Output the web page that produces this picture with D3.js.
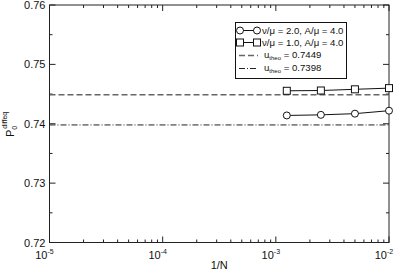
<!DOCTYPE html>
<html>
<head>
<meta charset="utf-8">
<script src="https://cdn.jsdelivr.net/npm/d3@7"></script>
<style>
  body { margin: 0; background: #fff; }
  text { font-family: "Liberation Sans", Arial, sans-serif; fill: #111; }
</style>
</head>
<body>
<svg></svg>
<script>
let width = 400
let height = 273
let margin = {left: 49.5, right: 11, top: 5, bottom: 30.5}

// data
let xValues = [0.00125, 0.0025, 0.005, 0.01]
let seriesNu2 = [0.7414, 0.7415, 0.7417, 0.7422]
let seriesNu1 = [0.74555, 0.7456, 0.7458, 0.7460]
let theoValues = [0.7449, 0.7398]
let yTicks = [0.72, 0.73, 0.74, 0.75, 0.76]
let xTickExps = [-5, -4, -3, -2]
let legendLabels = ["\u03bd/\u03bc = 2.0, A/\u03bc = 4.0", "\u03bd/\u03bc = 1.0, A/\u03bc = 4.0", "0.7449", "0.7398"]

let svg = d3.select("svg").attr("width", width).attr("height", height)

let xScale = d3.scaleLog().domain([1e-5, 1e-2]).range([margin.left, width - margin.right])
let yScale = d3.scaleLinear().domain([0.72, 0.76]).range([height - margin.bottom, margin.top])

let x0 = xScale.range()[0], x1 = xScale.range()[1]
let y0 = yScale.range()[0], y1 = yScale.range()[1]

// minor ticks for log axis
let minorX = []
for (let e = -5; e < -2; e++) {
    for (let m = 2; m <= 9; m++) minorX.push(m * Math.pow(10, e))
}
let minorY = [0.725, 0.735, 0.745, 0.755]

let ticks = svg.append("g").attr("stroke", "#222").attr("stroke-width", 1)
xTickExps.forEach(e => {
    let x = xScale(Math.pow(10, e))
    ticks.append("line").attr("x1", x).attr("x2", x).attr("y1", y0).attr("y2", y0 - 6)
    ticks.append("line").attr("x1", x).attr("x2", x).attr("y1", y1).attr("y2", y1 + 6)
})
minorX.forEach(v => {
    let x = xScale(v)
    ticks.append("line").attr("x1", x).attr("x2", x).attr("y1", y0).attr("y2", y0 - 3)
    ticks.append("line").attr("x1", x).attr("x2", x).attr("y1", y1).attr("y2", y1 + 3)
})
yTicks.forEach(v => {
    let y = yScale(v)
    ticks.append("line").attr("x1", x0).attr("x2", x0 + 6).attr("y1", y).attr("y2", y)
    ticks.append("line").attr("x1", x1).attr("x2", x1 - 6).attr("y1", y).attr("y2", y)
})
minorY.forEach(v => {
    let y = yScale(v)
    ticks.append("line").attr("x1", x0).attr("x2", x0 + 3).attr("y1", y).attr("y2", y)
    ticks.append("line").attr("x1", x1).attr("x2", x1 - 3).attr("y1", y).attr("y2", y)
})

// theory lines
svg.append("line")
    .attr("x1", x0).attr("x2", x1)
    .attr("y1", yScale(theoValues[0])).attr("y2", yScale(theoValues[0]))
    .attr("stroke", "#666").attr("stroke-width", 1.5).attr("stroke-dasharray", "6,3")
svg.append("line")
    .attr("x1", x0).attr("x2", x1)
    .attr("y1", yScale(theoValues[1])).attr("y2", yScale(theoValues[1]))
    .attr("stroke", "#222").attr("stroke-width", 1).attr("stroke-dasharray", "6,2,1,2")

// frame
svg.append("rect")
    .attr("x", x0).attr("y", y1).attr("width", x1 - x0).attr("height", y0 - y1)
    .attr("fill", "none").attr("stroke", "#222").attr("stroke-width", 1)

// y tick labels
svg.selectAll(".ylab").data(yTicks).enter().append("text")
    .attr("class", "ylab")
    .attr("x", x0 - 4).attr("y", d => yScale(d) + 4)
    .attr("text-anchor", "end").attr("font-size", 11)
    .text(d => d.toFixed(2))

// x tick labels
xTickExps.forEach(e => {
    let t = svg.append("text")
        .attr("x", xScale(Math.pow(10, e)) - 5).attr("y", 259)
        .attr("text-anchor", "middle").attr("font-size", 11)
    t.append("tspan").text("10")
    t.append("tspan").attr("font-size", 7).attr("dy", -5).text(e)
})

// axis titles
svg.append("text")
    .attr("x", (x0 + x1) / 2).attr("y", 269)
    .attr("text-anchor", "middle").attr("font-size", 11)
    .text("1/N")

let yTitle = svg.append("text")
    .attr("transform", "translate(14," + 137 + ") rotate(-90)")
    .attr("font-size", 11)
yTitle.append("tspan").text("P")
yTitle.append("tspan").attr("font-size", 7).attr("dy", 3).text("0")
yTitle.append("tspan").attr("font-size", 7).attr("dy", -10).attr("dx", -3).text("diffeq")

// series
let line = d3.line().x((d, i) => xScale(xValues[i])).y(d => yScale(d))

svg.append("path").datum(seriesNu2).attr("d", line)
    .attr("fill", "none").attr("stroke", "#111").attr("stroke-width", 1)
svg.selectAll(".circ").data(seriesNu2).enter().append("circle")
    .attr("class", "circ")
    .attr("cx", (d, i) => xScale(xValues[i])).attr("cy", d => yScale(d))
    .attr("r", 3.5).attr("fill", "#fff").attr("stroke", "#111").attr("stroke-width", 1)

svg.append("path").datum(seriesNu1).attr("d", line)
    .attr("fill", "none").attr("stroke", "#111").attr("stroke-width", 1)
svg.selectAll(".sq").data(seriesNu1).enter().append("rect")
    .attr("class", "sq")
    .attr("x", (d, i) => xScale(xValues[i]) - 3.5).attr("y", d => yScale(d) - 3.5)
    .attr("width", 7).attr("height", 7)
    .attr("fill", "#fff").attr("stroke", "#111").attr("stroke-width", 1)

// legend
let lg = svg.append("g").attr("transform", "translate(235,22)")
lg.append("rect").attr("x", 0.5).attr("y", 0.5).attr("width", 111).attr("height", 56)
    .attr("fill", "#fff").attr("stroke", "#111").attr("stroke-width", 1)

let rowY = [8.5, 20.5, 33.5, 46.5]
let sx1 = 5, sx2 = 22, tx = 27

lg.append("line").attr("x1", sx1).attr("x2", sx2).attr("y1", rowY[0]).attr("y2", rowY[0]).attr("stroke", "#111")
;[sx1, sx2].forEach(x => lg.append("circle").attr("cx", x).attr("cy", rowY[0]).attr("r", 3.5)
    .attr("fill", "#fff").attr("stroke", "#111"))
lg.append("line").attr("x1", sx1).attr("x2", sx2).attr("y1", rowY[1]).attr("y2", rowY[1]).attr("stroke", "#111")
;[sx1, sx2].forEach(x => lg.append("rect").attr("x", x - 3.5).attr("y", rowY[1] - 3.5)
    .attr("width", 7).attr("height", 7).attr("fill", "#fff").attr("stroke", "#111"))
lg.append("line").attr("x1", sx1 - 1).attr("x2", sx2 + 1).attr("y1", rowY[2]).attr("y2", rowY[2])
    .attr("stroke", "#666").attr("stroke-width", 1.5).attr("stroke-dasharray", "6,3")
lg.append("line").attr("x1", sx1 - 1).attr("x2", sx2 + 1).attr("y1", rowY[3]).attr("y2", rowY[3])
    .attr("stroke", "#222").attr("stroke-width", 1).attr("stroke-dasharray", "6,2,1,2")

lg.append("text").attr("x", tx).attr("y", rowY[0] + 3.5).attr("font-size", 9.6).text(legendLabels[0])
lg.append("text").attr("x", tx).attr("y", rowY[1] + 3.5).attr("font-size", 9.6).text(legendLabels[1])
;[2, 3].forEach(k => {
    let t = lg.append("text").attr("x", tx + 2).attr("y", rowY[k] + 2).attr("font-size", 9.6)
    t.append("tspan").text("u")
    t.append("tspan").attr("font-size", 6).attr("dy", 2).text("theo")
    t.append("tspan").attr("dy", -2).text(" = " + legendLabels[k])
})
</script>
</body>
</html>
